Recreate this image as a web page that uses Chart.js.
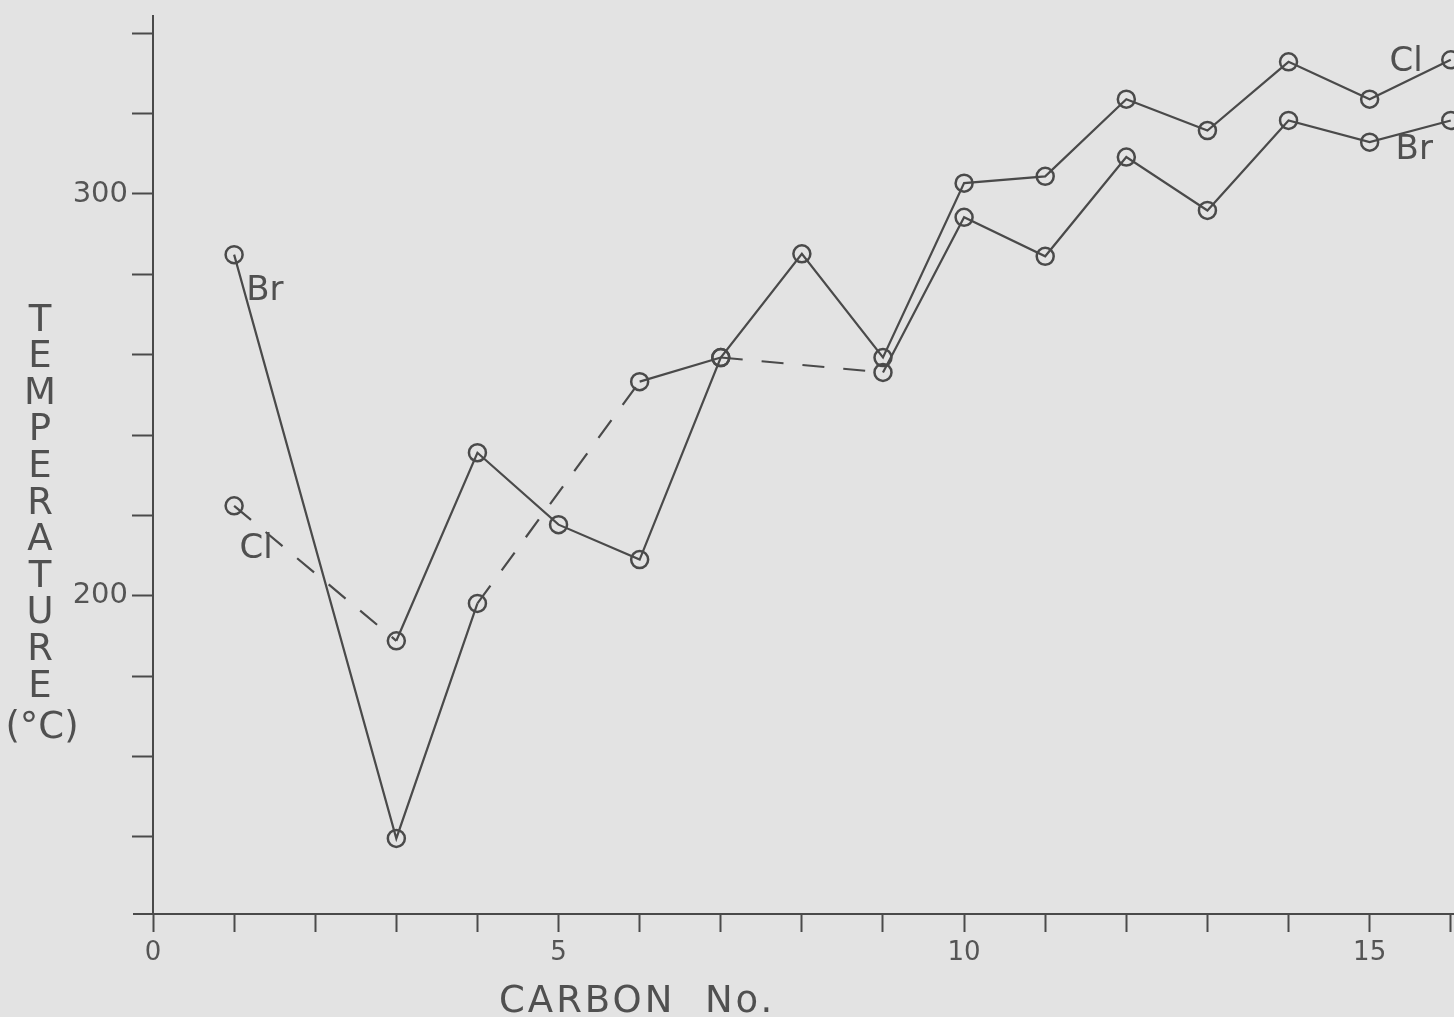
<!DOCTYPE html>
<html>
<head>
<meta charset="utf-8">
<script src="https://cdn.jsdelivr.net/npm/chart.js@4.4.1/dist/chart.umd.min.js"></script>
<style>
    html, body { margin: 0; padding: 0; background: #e3e3e3; }
    canvas { display: block; }
</style>
</head>
<body>
<canvas id="chart" width="1454" height="1017"></canvas>
<script>
// Melting / transition temperature vs carbon number, Br and Cl series

const brCarbon = [1, 3, 4, 6, 7, 9, 10, 11, 12, 13, 14, 15, 16];
const brTemp   = [284.9, 139.6, 198.1, 253.3, 259.3, 255.6, 294.2, 284.5, 309.2, 295.9, 318.3, 312.9, 318.3];
const brDashedFrom = [4, 7];   // segments starting at these carbon numbers are dashed

const clCarbon = [1, 3, 4, 5, 6, 7, 8, 9, 10, 11, 12, 13, 14, 15, 16];
const clTemp   = [222.4, 188.8, 235.6, 217.7, 209.0, 259.3, 285.1, 259.3, 302.7, 304.4, 323.6, 315.8, 332.9, 323.6, 333.4];
const clDashedFrom = [1];

const xTickValues = [0, 1, 2, 3, 4, 5, 6, 7, 8, 9, 10, 11, 12, 13, 14, 15, 16];
const xLabelValues = [0, 5, 10, 15];
const yTickValues = [140, 160, 180, 200, 220, 240, 260, 280, 300, 320, 340];
const yLabelValues = [200, 300];

// curve labels written on the plot
const curveLabels = [
    { text: 'Br', x: 1.38, y: 275.7 },
    { text: 'Cl', x: 1.27, y: 211.5 },
    { text: 'Cl', x: 15.45, y: 332.9 },
    { text: 'Br', x: 15.55, y: 311.0 }
];

const INK = '#4a4a4a';
const FONT = '"DejaVu Sans", sans-serif';

function toPoints(xs, ys) {
    return xs.map((x, i) => ({ x: x, y: ys[i] }));
}

function dashFor(list) {
    return ctx => list.includes(ctx.p0.parsed.x) ? [22, 19] : undefined;
}

const annotationPlugin = {
    id: 'annotations',
    afterDraw(chart) {
        const ctx = chart.ctx;
        const xs = chart.scales.x;
        const ys = chart.scales.y;
        ctx.save();
        ctx.fillStyle = '#505050';
        ctx.textAlign = 'center';
        ctx.textBaseline = 'middle';
        ctx.font = '34px ' + FONT;
        curveLabels.forEach(l => {
            ctx.fillText(l.text, xs.getPixelForValue(l.x), ys.getPixelForValue(l.y));
        });

        // y axis title, letters stacked
        ctx.font = '37px ' + FONT;
        const letters = 'TEMPERATURE'.split('');
        letters.forEach((ch, i) => {
            ctx.fillText(ch, 40, 321 + i * 36.6);
        });
        ctx.fillText('(°C)', 42, 728);

        // x axis title
        ctx.textAlign = 'left';
        ctx.textBaseline = 'alphabetic';
        ctx.letterSpacing = '3px';
        ctx.fillText('CARBON  No.', 499, 1012);
        ctx.restore();

        // x axis runs a little past the y axis on the left
        ctx.save();
        ctx.strokeStyle = INK;
        ctx.lineWidth = 2;
        ctx.beginPath();
        ctx.moveTo(133, xs.top);
        ctx.lineTo(xs.left, xs.top);
        ctx.stroke();
        ctx.restore();
    }
};

new Chart(document.getElementById('chart'), {
    type: 'line',
    data: {
        datasets: [
            {
                label: 'Br',
                data: toPoints(brCarbon, brTemp),
                borderColor: INK,
                borderWidth: 2.2,
                tension: 0,
                pointRadius: 8.5,
                pointBorderWidth: 2.5,
                pointBorderColor: INK,
                pointBackgroundColor: 'rgba(0,0,0,0)',
                clip: false,
                segment: { borderDash: dashFor(brDashedFrom) }
            },
            {
                label: 'Cl',
                data: toPoints(clCarbon, clTemp),
                borderColor: INK,
                borderWidth: 2.2,
                tension: 0,
                pointRadius: 8.5,
                pointBorderWidth: 2.5,
                pointBorderColor: INK,
                pointBackgroundColor: 'rgba(0,0,0,0)',
                clip: false,
                segment: { borderDash: dashFor(clDashedFrom) }
            }
        ]
    },
    options: {
        responsive: false,
        animation: false,
        devicePixelRatio: 1,
        layout: {
            autoPadding: false,
            padding: { top: 16, right: 0, left: 0, bottom: 0 }
        },
        plugins: {
            legend: { display: false },
            tooltip: { enabled: false },
            title: { display: false }
        },
        scales: {
            x: {
                type: 'linear',
                min: 0,
                max: 16.04,
                afterBuildTicks: scale => { scale.ticks = xTickValues.map(v => ({ value: v })); },
                afterFit: scale => {
                    scale.height = 103;
                    scale.paddingLeft = 0;
                    scale.paddingRight = 0;
                },
                grid: {
                    drawOnChartArea: false,
                    drawTicks: true,
                    tickLength: 18,
                    tickWidth: 2,
                    tickColor: INK
                },
                border: { display: true, color: INK, width: 2 },
                ticks: {
                    autoSkip: false,
                    maxRotation: 0,
                    padding: 6,
                    color: '#555',
                    font: { family: FONT, size: 26 },
                    callback: v => xLabelValues.includes(v) ? String(v) : ''
                }
            },
            y: {
                type: 'linear',
                min: 120.8,
                max: 344.3,
                afterBuildTicks: scale => { scale.ticks = yTickValues.map(v => ({ value: v })); },
                afterFit: scale => {
                    scale.width = 153;
                    scale.paddingTop = 0;
                    scale.paddingBottom = 0;
                },
                grid: {
                    drawOnChartArea: false,
                    drawTicks: true,
                    tickLength: 21,
                    tickWidth: 2,
                    tickColor: INK
                },
                border: { display: true, color: INK, width: 2 },
                ticks: {
                    padding: 4,
                    color: '#555',
                    font: { family: FONT, size: 29 },
                    callback: v => yLabelValues.includes(v) ? String(v) : ''
                }
            }
        }
    },
    plugins: [annotationPlugin]
});
</script>
</body>
</html>
